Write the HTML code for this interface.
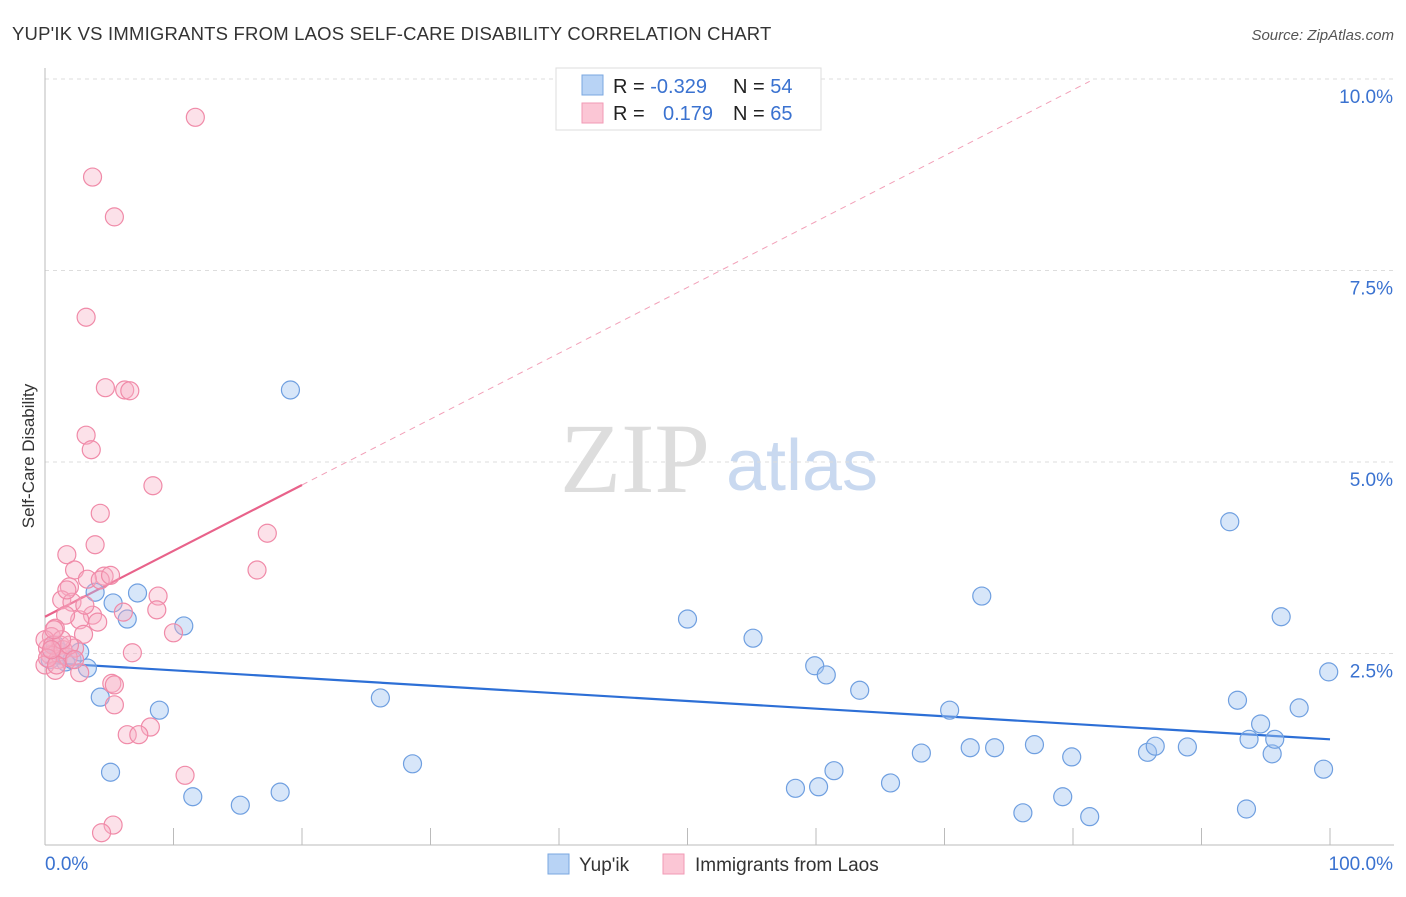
<!DOCTYPE html>
<html><head><meta charset="utf-8"><style>
body{margin:0;background:#fff;font-family:"Liberation Sans",sans-serif}
svg text{font-family:"Liberation Sans",sans-serif}
</style></head><body>
<svg id="chart" width="1406" height="892" xmlns="http://www.w3.org/2000/svg">
<text x="12" y="40" font-size="18.5" fill="#333" letter-spacing="0.2">YUP'IK VS IMMIGRANTS FROM LAOS SELF-CARE DISABILITY CORRELATION CHART</text>
<text x="1394" y="40" font-size="15" fill="#555" text-anchor="end" font-style="italic">Source: ZipAtlas.com</text>
<text x="34" y="456" font-size="17" fill="#333" text-anchor="middle" transform="rotate(-90 34 456)">Self-Care Disability</text>
<g>
<text x="635" y="492" font-size="100" fill="#ddd" text-anchor="middle" font-family="Liberation Serif" style="font-family:'Liberation Serif',serif">ZIP</text>
<text x="802" y="490" font-size="72" fill="#c9d9f0" text-anchor="middle">atlas</text>
</g>
<g id="grid"></g><g id="axes"></g><g id="trends"></g><g id="points"></g>
<g>
<rect x="556" y="68" width="265" height="62" fill="#fff" stroke="#ddd"/>
<rect x="582" y="75" width="21" height="20" fill="#b8d3f5" stroke="#7aa7e0"/>
<rect x="582" y="103" width="21" height="20" fill="#fbc6d5" stroke="#f29ab5"/>
<text x="613" y="93" font-size="20" fill="#222">R = <tspan fill="#3a72d0">-0.329</tspan></text>
<text x="733" y="93" font-size="20" fill="#222">N = <tspan fill="#3a72d0">54</tspan></text>
<text x="613" y="120" font-size="20" fill="#222">R = </text>
<text x="663" y="120" font-size="20" fill="#3a72d0">0.179</text>
<text x="733" y="120" font-size="20" fill="#222">N = <tspan fill="#3a72d0">65</tspan></text>
</g>
<g>
<rect x="548" y="854" width="21" height="20" fill="#b8d3f5" stroke="#7aa7e0"/>
<text x="579" y="871" font-size="19" fill="#333">Yup'ik</text>
<rect x="663" y="854" width="21" height="20" fill="#fbc6d5" stroke="#f29ab5"/>
<text x="695" y="871" font-size="19" fill="#333">Immigrants from Laos</text>
</g>
</svg>
<script>
const yTicks=[2.5,5.0,7.5,10.0];
const xTickLabels=["0.0%","100.0%"];
const blueX=[1.2,1.6,2.1,2.7,3.3,3.9,4.3,5.1,5.3,6.4,7.2,8.9,10.8,11.5,15.2,18.3,19.1,26.1,28.6,50.0,55.1,58.4,59.9,60.2,60.8,61.4,63.4,65.8,68.2,70.4,72.0,72.9,73.9,76.1,77.0,79.2,79.9,81.3,85.8,86.4,88.9,92.2,92.8,93.5,93.7,94.6,95.5,95.7,96.2,97.6,99.5,99.9,0.4,0.8];
const blueY=[2.52,2.39,2.42,2.52,2.31,3.30,1.93,0.95,3.16,2.95,3.29,1.76,2.86,0.63,0.52,0.69,5.94,1.92,1.06,2.95,2.70,0.74,2.34,0.76,2.22,0.97,2.02,0.81,1.20,1.76,1.27,3.25,1.27,0.42,1.31,0.63,1.15,0.37,1.21,1.29,1.28,4.22,1.89,0.47,1.38,1.58,1.19,1.38,2.98,1.79,0.99,2.26,2.42,2.61];
const pinkX=[11.7,3.7,5.4,3.2,4.7,6.2,6.6,3.2,3.6,8.4,4.3,17.3,3.9,1.7,16.5,2.3,4.6,3.3,1.9,1.3,8.8,2.1,6.1,8.7,3.7,2.7,4.1,1.6,10.0,3.0,0.8,0.5,1.2,2.3,0.2,0.4,1.0,1.8,0.0,0.8,2.7,6.8,5.2,5.4,5.4,8.2,6.4,7.3,10.9,5.3,4.4,0.0,0.6,1.4,1.9,0.2,0.9,2.3,1.3,0.7,4.3,5.1,1.7,3.1,0.5];
const pinkY=[9.50,8.72,8.20,6.89,5.97,5.94,5.93,5.35,5.16,4.69,4.33,4.07,3.92,3.79,3.59,3.59,3.51,3.47,3.37,3.20,3.25,3.17,3.04,3.07,3.00,2.94,2.91,3.00,2.77,2.75,2.83,2.72,2.61,2.57,2.57,2.48,2.42,2.45,2.35,2.28,2.25,2.51,2.11,2.09,1.83,1.54,1.44,1.44,0.91,0.26,0.16,2.68,2.61,2.55,2.61,2.44,2.35,2.42,2.68,2.81,3.46,3.52,3.33,3.13,2.55];
const blueTrend=[2.38,1.38];
const pinkTrend=[2.98,4.70,9.97];
const pinkTrendX=[0,20,81.3];
const NS="http://www.w3.org/2000/svg";
const sx=v=>45+v*12.85, sy=v=>845-v*76.6;
function mk(tag,attrs,parent){const e=document.createElementNS(NS,tag);for(const k in attrs)e.setAttribute(k,attrs[k]);parent.appendChild(e);return e;}
const grid=document.getElementById('grid'),axes=document.getElementById('axes'),tr=document.getElementById('trends'),pts=document.getElementById('points');
yTicks.forEach(t=>{
 const l=mk('line',{x1:45,x2:1394,y1:sy(t),y2:sy(t),stroke:'#ddd','stroke-dasharray':'4,4'},grid);
 
 
 const tx=mk('text',{x:1393,y:sy(t)+24,'font-size':19,fill:'#3a72d0','text-anchor':'end'},grid);
 tx.textContent=t.toFixed(1)+'%';
 
 
});
let ax=mk('line',{x1:45,x2:45,y1:68,y2:845,stroke:'#bbb'},axes);


ax=mk('line',{x1:45,x2:1394,y1:845,y2:845,stroke:'#bbb'},axes);


for(let i=0;i<=10;i++){const t=mk('line',{x1:sx(i*10),x2:sx(i*10),y1:828,y2:845,stroke:'#bbb'},axes);
 
 }
[[0,'start',45],[100,'end',1393]].forEach((d,i)=>{const t=mk('text',{x:d[2],y:870,'font-size':19,fill:'#3a72d0','text-anchor':d[1]},axes);t.textContent=xTickLabels[i];
 
 });
blueX.forEach((x,i)=>{const c=mk('circle',{cx:sx(x),cy:sy(blueY[i]),r:9,fill:'rgba(160,196,240,0.42)',stroke:'#6f9fe0','stroke-width':1.2},pts);
 
 });
pinkX.forEach((x,i)=>{const c=mk('circle',{cx:sx(x),cy:sy(pinkY[i]),r:9,fill:'rgba(248,176,196,0.38)',stroke:'#f08aa8','stroke-width':1.2},pts);
 
 });
let l=mk('line',{x1:sx(0),y1:sy(blueTrend[0]),x2:sx(100),y2:sy(blueTrend[1]),stroke:'#2d6fd6','stroke-width':2.2},tr);


l=mk('line',{x1:sx(pinkTrendX[1]),y1:sy(pinkTrend[1]),x2:sx(pinkTrendX[2]),y2:sy(pinkTrend[2]),stroke:'#f2a0b8','stroke-width':1,'stroke-dasharray':'6,5'},tr);


l=mk('line',{x1:sx(pinkTrendX[0]),y1:sy(pinkTrend[0]),x2:sx(pinkTrendX[1]),y2:sy(pinkTrend[1]),stroke:'#e8628a','stroke-width':2.2},tr);


</script>
</body></html>
